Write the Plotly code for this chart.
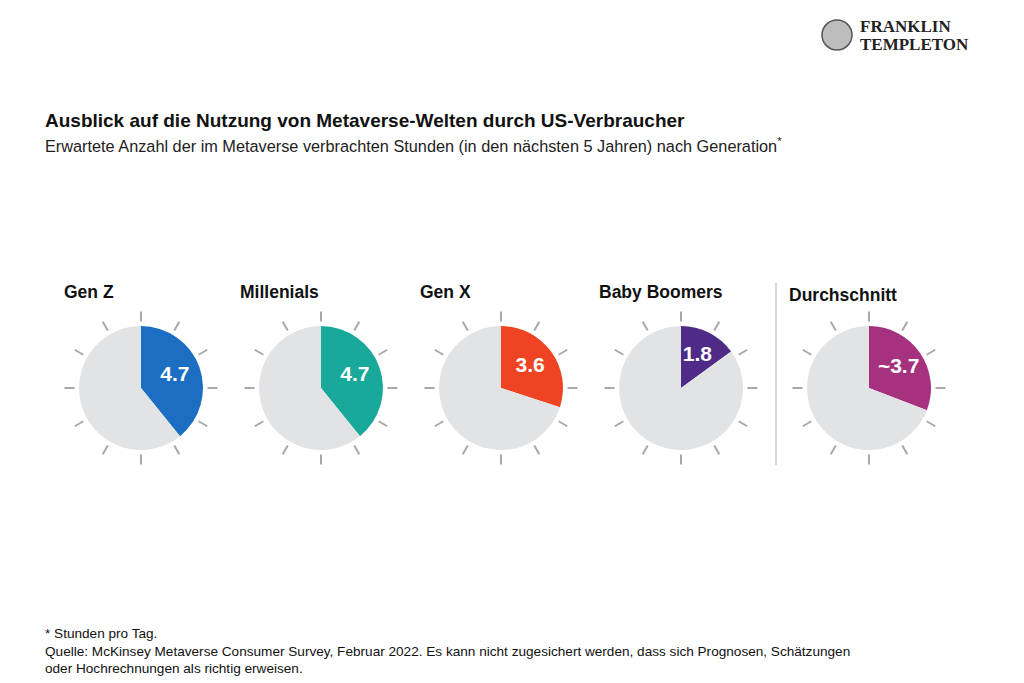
import plotly.graph_objects as go

# ---- data ----
generations = ["Gen Z", "Millenials", "Gen X", "Baby Boomers", "Durchschnitt"]
hours = [4.7, 4.7, 3.6, 1.8, 3.7]
value_labels = ["4.7", "4.7", "3.6", "1.8", "~3.7"]
colors = ["#1b6ec2", "#19a99a", "#ef4423", "#4f2b87", "#a5317f"]
clock_hours = 12

W, H = 1024, 683
OFF = 8  # page body margin in the browser
centers_x = [141, 321, 501, 681, 869]
center_y = 388
half = 66  # px, outer edge of polar area
FONT = "Liberation Sans, Arial, sans-serif"


def px(x):
    return (x - OFF) / W


def py(y):
    return 1 - (y - OFF) / H


fig = go.Figure()
layout_polars = {}
for i, (g, v, lab, c, cx) in enumerate(zip(generations, hours, value_labels, colors, centers_x)):
    key = "polar" if i == 0 else f"polar{i+1}"
    sub = key
    deg_per_h = 360 / clock_hours
    rest = clock_hours - v
    fig.add_trace(go.Barpolar(
        r=[1, 1],
        theta=[v * deg_per_h / 2, v * deg_per_h + rest * deg_per_h / 2],
        width=[v * deg_per_h, rest * deg_per_h],
        marker=dict(color=[c, "#e2e3e5"], line=dict(width=0)),
        subplot=sub, showlegend=False, hoverinfo="skip",
    ))
    fig.add_trace(go.Scatterpolar(
        r=[0.58], theta=[v * deg_per_h / 2], mode="text", text=[lab],
        textfont=dict(family=FONT, size=21, color="white", weight="bold"),
        subplot=sub, showlegend=False, hoverinfo="skip",
    ))
    layout_polars[key] = dict(
        domain=dict(x=[px(cx - half), px(cx + half)],
                    y=[py(center_y + half), py(center_y - half)]),
        bgcolor="rgba(0,0,0,0)",
        bargap=0,
        hole=0,
        radialaxis=dict(visible=False, range=[0, 1.065]),
        angularaxis=dict(rotation=90, direction="clockwise", tickmode="linear",
                         tick0=0, dtick=30, ticks="outside", ticklen=10, tickwidth=1.5,
                         tickcolor="#a8a8a8", showticklabels=False, showgrid=False,
                         showline=False),
    )

annotations = []
title_x = [62, 238, 418, 597, 787]
title_y = [292, 292, 292, 292, 295]
for g, tx, ty in zip(generations, title_x, title_y):
    annotations.append(dict(x=px(tx), y=py(ty), xref="paper", yref="paper",
                            xanchor="left", yanchor="middle", showarrow=False, text=f"<b>{g}</b>",
                            font=dict(family=FONT, size=17.5, color="#111111")))

annotations += [
    dict(x=px(43), y=py(120), xref="paper", yref="paper", xanchor="left", yanchor="middle",
         showarrow=False, text="<b>Ausblick auf die Nutzung von Metaverse-Welten durch US-Verbraucher</b>",
         font=dict(family=FONT, size=19, color="#111111")),
    dict(x=px(43), y=py(145), xref="paper", yref="paper", xanchor="left", yanchor="middle",
         showarrow=False,
         text="Erwartete Anzahl der im Metaverse verbrachten Stunden (in den nächsten 5 Jahren) nach Generation<sup>*</sup>",
         font=dict(family=FONT, size=16.3, color="#222222")),
    dict(x=px(43), y=py(651), xref="paper", yref="paper", xanchor="left", yanchor="middle",
         showarrow=False, align="left",
         text="* Stunden pro Tag.<br>Quelle: McKinsey Metaverse Consumer Survey, Februar 2022. Es kann nicht zugesichert werden, dass sich Prognosen, Schätzungen<br>oder Hochrechnungen als richtig erweisen.",
         font=dict(family=FONT, size=13.6, color="#111111")),
    dict(x=px(858), y=py(27), xref="paper", yref="paper", xanchor="left", yanchor="middle",
         showarrow=False, text="<b>FRANKLIN</b>",
         font=dict(family="Liberation Serif, DejaVu Serif, serif", size=17, color="#222222")),
    dict(x=px(858), y=py(44), xref="paper", yref="paper", xanchor="left", yanchor="middle",
         showarrow=False, text="<b>TEMPLETON</b>",
         font=dict(family="Liberation Serif, DejaVu Serif, serif", size=17, color="#222222")),
]

shapes = [
    dict(type="line", xref="paper", yref="paper", x0=px(776), x1=px(776),
         y0=py(283), y1=py(465), line=dict(color="#c8c8c8", width=1.5)),
    dict(type="circle", xref="paper", yref="paper", x0=px(822), x1=px(852),
         y0=py(50), y1=py(20), line=dict(color="#555555", width=1.5),
         fillcolor="#bdbdbd"),
]

fig.update_layout(width=W, height=H, margin=dict(l=0, r=0, t=0, b=0),
                  paper_bgcolor="white", plot_bgcolor="white",
                  annotations=annotations, shapes=shapes, **layout_polars)
fig.write_html("out.html")
